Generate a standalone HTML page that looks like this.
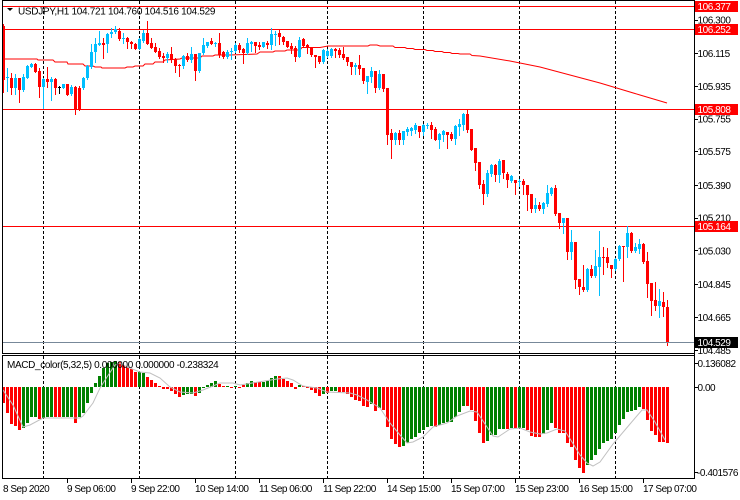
<!DOCTYPE html>
<html><head><meta charset="utf-8">
<style>
html,body{margin:0;padding:0;background:#fff;width:740px;height:500px;overflow:hidden;}
svg{display:block;}
text{font-family:"Liberation Sans",Arial,sans-serif;font-size:10px;fill:#000;}
.ax{letter-spacing:-0.45px;}
.tl{letter-spacing:-0.5px;}
.wt{fill:#fff;letter-spacing:-0.45px;}
</style></head><body>
<svg width="740" height="500" xmlns="http://www.w3.org/2000/svg">
<rect x="0" y="0" width="740" height="500" fill="#fff"/>
<!-- day separators -->
<g stroke="#000" stroke-width="1" stroke-dasharray="3,2" shape-rendering="crispEdges">
<line x1="43.5" y1="1" x2="43.5" y2="478"/>
<line x1="139.5" y1="1" x2="139.5" y2="478"/>
<line x1="235.5" y1="1" x2="235.5" y2="478"/>
<line x1="327.5" y1="1" x2="327.5" y2="478"/>
<line x1="423.5" y1="1" x2="423.5" y2="478"/>
<line x1="519.5" y1="1" x2="519.5" y2="478"/>
<line x1="615.5" y1="1" x2="615.5" y2="478"/>
</g>
<!-- horizontal red levels -->
<g stroke="#ff0000" stroke-width="1" shape-rendering="crispEdges">
<line x1="2" y1="6.5" x2="694" y2="6.5"/>
<line x1="2" y1="29.5" x2="694" y2="29.5"/>
<line x1="2" y1="109.5" x2="694" y2="109.5"/>
<line x1="2" y1="226.5" x2="694" y2="226.5"/>
</g>
<!-- moving average -->
<polyline fill="none" stroke="#ff0000" stroke-width="1" points="3,59 37,59 38,60 53,60 55,62 67,62 68,64 83,64 85,66 93,66 95,67 101,67 102,68 125,68 127,67 133,67 135,66 143,66 145,64 153,64 155,62 163,62 165,60 180,59 182,58 200,58 202,56 213,56 215,55 230,55 257,54 260,52 273,52 275,51 285,51 287,50 300,50 302,47.5 320,47.5 328,46 368,46 370,45 377,45 380,46 393,46 395,47.5 405,47.5 407,48.5 413,48.5 415,49.5 425,49.5 427,50.5 433,50.5 435,51.5 442,51.5 444,52.5 450,52.5 452,53.5 458,53.5 460,54 470,54 472,55.5 480,56 510,61 540,67 570,75 600,83 620,89 640,95 667,103"/>
<g id="dyn" shape-rendering="crispEdges"></g>
<!-- MACD signal -->
<polyline fill="none" stroke="#c0c0c0" stroke-width="1" points="3,390 13,405 23,427 30,425 43,418 80,418 83,416 93,403 100,388 107,377 115,365 120,363 127,367 140,372 150,373 160,378 170,387 180,392 193,393 203,390 213,386 220,383 233,383 240,385 277,379 287,378 293,380 303,386 317,388 327,392 350,393 357,395 367,400 380,408 390,423 400,435 407,443 413,442 423,437 433,427 447,423 457,416 470,411 477,412 487,427 493,436 498,437 510,429 520,428 530,432 540,434 547,433 557,429 565,431 572,442 580,455 587,463 593,466 600,462 613,444 630,424 642,410 647,410 655,422 665,440"/>
<!-- bid line -->
<line x1="2" y1="342.5" x2="694" y2="342.5" stroke="#778899" stroke-width="1" shape-rendering="crispEdges"/>
<!-- frames -->
<g stroke="#000" stroke-width="1" fill="none" shape-rendering="crispEdges">
<line x1="2" y1="0.5" x2="695" y2="0.5"/>
<line x1="2.5" y1="0" x2="2.5" y2="354"/>
<line x1="2" y1="353.5" x2="695" y2="353.5"/>
<line x1="2" y1="355.5" x2="695" y2="355.5"/>
<line x1="2.5" y1="355" x2="2.5" y2="479"/>
<line x1="2" y1="478.5" x2="695" y2="478.5"/>
<line x1="694.5" y1="0" x2="694.5" y2="479"/>
</g>
<!-- right axis ticks -->
<g stroke="#000" stroke-width="1" shape-rendering="crispEdges">
<line x1="694" y1="20.5" x2="698" y2="20.5"/>
<line x1="694" y1="53.5" x2="698" y2="53.5"/>
<line x1="694" y1="86.5" x2="698" y2="86.5"/>
<line x1="694" y1="119.5" x2="698" y2="119.5"/>
<line x1="694" y1="151.5" x2="698" y2="151.5"/>
<line x1="694" y1="185.5" x2="698" y2="185.5"/>
<line x1="694" y1="218.5" x2="698" y2="218.5"/>
<line x1="694" y1="250.5" x2="698" y2="250.5"/>
<line x1="694" y1="284.5" x2="698" y2="284.5"/>
<line x1="694" y1="317.5" x2="698" y2="317.5"/>
<line x1="694" y1="350.5" x2="698" y2="350.5"/>
<line x1="694" y1="363.5" x2="698" y2="363.5"/>
<line x1="694" y1="387.5" x2="698" y2="387.5"/>
<line x1="694" y1="472.5" x2="698" y2="472.5"/>
<!-- bottom ticks -->
<line x1="67.5" y1="478" x2="67.5" y2="483"/>
<line x1="131.5" y1="478" x2="131.5" y2="483"/>
<line x1="195.5" y1="478" x2="195.5" y2="483"/>
<line x1="259.5" y1="478" x2="259.5" y2="483"/>
<line x1="323.5" y1="478" x2="323.5" y2="483"/>
<line x1="387.5" y1="478" x2="387.5" y2="483"/>
<line x1="451.5" y1="478" x2="451.5" y2="483"/>
<line x1="515.5" y1="478" x2="515.5" y2="483"/>
<line x1="579.5" y1="478" x2="579.5" y2="483"/>
<line x1="643.5" y1="478" x2="643.5" y2="483"/>
</g>
<!-- right axis labels -->
<g class="ax">
<text x="697.5" y="23.5" class="ax">106.300</text>
<text x="697.5" y="57" class="ax">106.115</text>
<text x="697.5" y="90" class="ax">105.935</text>
<text x="697.5" y="122.5" class="ax">105.755</text>
<text x="697.5" y="155" class="ax">105.575</text>
<text x="697.5" y="189" class="ax">105.390</text>
<text x="697.5" y="221.5" class="ax">105.210</text>
<text x="697.5" y="254.5" class="ax">105.030</text>
<text x="697.5" y="288" class="ax">104.845</text>
<text x="697.5" y="321" class="ax">104.665</text>
<text x="697.5" y="354" class="ax">104.485</text>
<text x="697.5" y="367" class="ax">0.136082</text>
<text x="697.5" y="391" class="ax">0.00</text>
<text x="697" y="476" class="ax">-0.401576</text>
</g>
<!-- level boxes -->
<rect x="695" y="1" width="43" height="11" fill="#ff0000"/>
<text x="697.5" y="10" class="wt">106.377</text>
<rect x="695" y="24" width="43" height="11" fill="#ff0000"/>
<text x="697.5" y="33" class="wt">106.252</text>
<rect x="695" y="104" width="43" height="11" fill="#ff0000"/>
<text x="697.5" y="113" class="wt">105.808</text>
<rect x="695" y="221" width="43" height="11" fill="#ff0000"/>
<text x="697.5" y="230" class="wt">105.164</text>
<rect x="695" y="337" width="43" height="11" fill="#000"/>
<text x="697.5" y="346" class="wt">104.529</text>
<!-- header -->
<polygon points="7,8 13,8 10,11" fill="#000"/>
<text x="18" y="14.5" style="letter-spacing:-0.3px">USDJPY,H1  104.721 104.760 104.516 104.529</text>
<text x="7" y="368" style="letter-spacing:-0.36px">MACD_color(5,32,5) 0.000000 0.000000 -0.238324</text>
<!-- time labels -->
<g>
<text x="3" y="492" class="tl">8 Sep 2020</text>
<text x="67" y="492" class="tl">9 Sep 06:00</text>
<text x="131" y="492" class="tl">9 Sep 22:00</text>
<text x="195" y="492" class="tl">10 Sep 14:00</text>
<text x="259" y="492" class="tl">11 Sep 06:00</text>
<text x="323" y="492" class="tl">11 Sep 22:00</text>
<text x="387" y="492" class="tl">14 Sep 15:00</text>
<text x="451" y="492" class="tl">15 Sep 07:00</text>
<text x="515" y="492" class="tl">15 Sep 23:00</text>
<text x="579" y="492" class="tl">16 Sep 15:00</text>
<text x="643" y="492" class="tl">17 Sep 07:00</text>
</g>
</svg>
<script>
(function(){
var B=[[26,24,92,80],[78,68,91,77],[78,73,94,88],[88,74,94,78],[78,78,102,90],[90,74,91,77],[78,65,78,66],[67,63,67,64],[64,63,72,72],[71,68,97,87],
[87,78,108,79],[79,67,87,82],[82,77,100,79],[79,78,94,88],[87,86,93,87],[88,84,88,84],[84,84,95,95],[94,85,95,87],[87,86,114,109],[88,86,110,109],
[88,77,89,78],[78,65,79,66],[67,44,68,52],[52,38,62,44],[45,31,45,43],[43,38,58,45],[44,33,52,34],[34,28,37,32],[32,26,33,29],[31,28,40,39],
[39,33,43,38],[38,37,48,42],[42,41,48,44],[44,43,49,49],[49,38,49,39],[41,30,42,33],[33,21,44,44],[43,38,48,48],[47,43,52,52],[51,48,58,57],
[56,53,62,58],[58,52,62,54],[54,47,62,60],[59,58,72,66],[65,64,76,66],[66,55,68,56],[56,53,61,60],[60,47,62,54],[54,54,80,71],[71,53,72,53],
[53,38,54,45],[46,42,47,42],[41,38,44,44],[44,42,46,43],[43,33,57,55],[52,51,58,57],[57,50,58,52],[52,48,59,51],[51,43,52,45],[45,43,52,50],
[49,48,63,53],[53,38,54,43],[44,41,51,42],[42,42,52,46],[45,42,49,47],[47,42,47,42],[43,41,48,45],[45,28,49,34],[35,31,45,34],[33,30,44,37],
[37,36,44,42],[41,41,47,47],[46,43,53,49],[48,46,61,57],[57,37,57,40],[39,38,47,46],[45,44,53,48],[47,47,56,55],[55,55,67,57],[56,56,63,62],
[62,49,63,50],[56,49,57,51],[56,48,57,49],[49,48,57,51],[50,48,57,55],[54,47,59,58],[57,57,65,62],[62,62,74,67],[67,63,74,65],[65,55,74,69],
[68,68,83,81],[82,76,93,76],[77,67,82,71],[71,71,92,88],[88,70,89,74],[74,74,91,89],[88,88,144,135],[133,129,158,140],[140,132,144,133],[133,130,144,140],
[140,131,144,131],[132,127,135,129],[131,127,135,128],[130,123,133,125],[126,126,137,132],[132,124,135,125],[126,123,128,125],[125,122,138,130],[129,127,140,140],[140,133,148,134],
[135,130,141,131],[132,132,148,135],[134,132,140,139],[139,125,144,126],[127,119,135,124],[125,113,130,114],[114,109,132,130],[129,129,150,150],[148,148,170,163],[162,162,188,185],
[184,180,204,194],[194,170,196,173],[174,164,176,165],[165,164,181,175],[175,159,182,161],[160,160,178,173],[174,172,187,180],[181,175,182,176],[180,180,194,183],[182,179,186,181],
[181,179,194,185],[185,185,210,195],[194,194,212,209],[209,198,212,205],[205,202,210,209],[209,202,213,203],[204,185,206,193],[194,187,195,188],[188,185,215,214],[213,213,228,223],
[223,218,233,218],[218,218,259,252],[252,230,259,242],[242,242,288,280],[279,279,294,287],[287,265,291,290],[290,268,291,269],[269,265,277,276],[276,250,277,266],[267,231,295,257],
[257,247,274,258],[257,248,267,263],[265,265,277,269],[269,258,270,259],[259,245,260,246],[246,246,281,247],[247,226,257,233],[233,232,252,251],[251,243,252,247],[249,239,253,244],
[244,243,263,262],[261,252,297,284],[283,283,315,301],[300,282,310,306],[306,289,317,301],[302,292,316,307],[307,300,345,343]];
var M="r403 r413 r424 r426 r430 g428 g423 g417 g417 r419 g418 g417 g417 r417 r417 g417 g417 g417 r423 g417 g413 g403 g393 g383 g376 g368 g363 g362 g361 r362 r365 r367 r369 r372 g372 g373 r377 r380 r383 r386 r389 r389 r391 r394 r397 g395 g394 g394 r396 g393 g388 g385 g383 g381 r384 r386 g386 r388 g386 r388 r385 g383 g381 r382 r382 g382 g381 g378 g376 r376 r379 r381 r383 r389 g385 r386 r388 r390 r393 r396 g394 r393 g391 g391 r392 r392 r394 r397 r400 r401 r406 r407 g404 r411 g408 r410 r427 r439 r444 r447 g446 g443 g439 g437 g433 g430 g427 g426 r427 g425 g423 g422 g422 g417 g412 g406 r406 r410 r421 r433 r443 g441 g435 g435 g429 g429 r429 g428 r428 g428 g428 r430 r436 r437 r437 g434 g430 g423 r428 r433 r433 r443 r447 r460 r468 r473 g465 g460 g455 g449 g443 g441 g439 g433 g425 g419 g412 g411 g410 g407 r409 r420 r431 r435 r442 r442 r443".split(" ");
var s="";
var Z=387;
for(var i=0;i<M.length;i++){
  var c=3+4*i, col=M[i][0]=="g"?"#008000":"#ff0000", v=parseInt(M[i].slice(1),10);
  var y=v>Z?Z:v, h=Math.max(1,Math.abs(v-Z));
  s+='<rect x="'+(c-1)+'" y="'+y+'" width="3" height="'+h+'" fill="'+col+'"/>';
}
for(var j=0;j<B.length;j++){
  var c2=3+4*j,o=B[j][0],hi=B[j][1],lo=B[j][2],cl=B[j][3];
  var cc=cl<o?"#00bfff":(cl>o?"#ff0000":"#000000");
  s+='<rect x="'+c2+'" y="'+hi+'" width="1" height="'+(lo-hi+1)+'" fill="'+cc+'"/>';
  var t=Math.min(o,cl), bh=Math.max(1,Math.abs(o-cl));
  s+='<rect x="'+(c2-1)+'" y="'+t+'" width="3" height="'+bh+'" fill="'+cc+'"/>';
}
document.getElementById("dyn").innerHTML=s;
})();
</script>
</body></html>
